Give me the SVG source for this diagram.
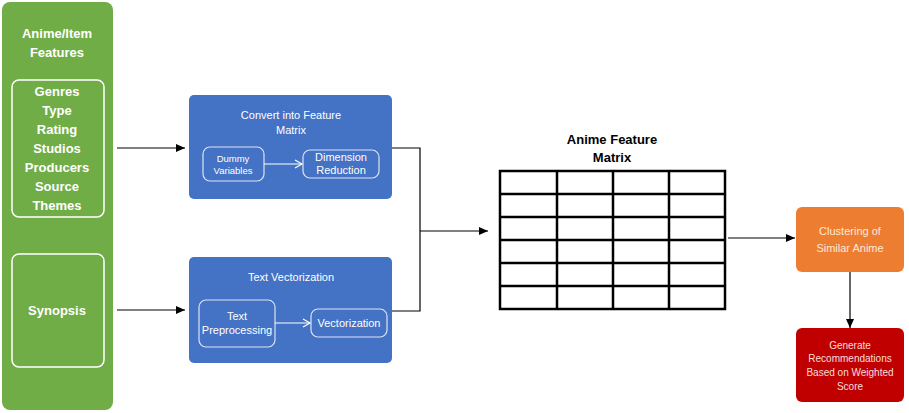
<svg xmlns="http://www.w3.org/2000/svg" width="909" height="413" viewBox="0 0 909 413">
<defs>
<style>
.t{font-family:"Liberation Sans","Open Sans",sans-serif;text-anchor:middle}
.wb{fill:#fff;font-weight:bold;font-size:13px}
.w{fill:#fff;font-size:11px}
.inner{fill:none;stroke:#fff;stroke-width:1.5}
.innerb{fill:none;stroke:#dbe3f3;stroke-width:1.2}
.conn{fill:none;stroke:#000;stroke-width:1.2}
.connw{fill:none;stroke:#fff;stroke-width:1.2}
.grid{fill:none;stroke:#000;stroke-width:2.5}
</style>
<marker id="ah" markerWidth="10" markerHeight="10" refX="9" refY="5" orient="auto" markerUnits="userSpaceOnUse">
<path d="M0,1 L9,5 L0,9 Z" fill="#000"/>
</marker>
<marker id="ahw" markerWidth="10" markerHeight="10" refX="8" refY="5" orient="auto" markerUnits="userSpaceOnUse">
<path d="M1,1 L8,5 L1,9" fill="none" stroke="#fff" stroke-width="1.2"/>
</marker>
</defs>
<rect width="909" height="413" fill="#fff"/>

<g id="features">
<rect x="2" y="2" width="111" height="408" rx="8" fill="#70AD47"/>
<text class="t wb" x="57" y="38">Anime/Item</text>
<text class="t wb" x="57" y="57">Features</text>
<rect class="inner" x="12" y="80" width="92" height="137" rx="7"/>
<text class="t wb" x="57" y="96">Genres</text>
<text class="t wb" x="57" y="115">Type</text>
<text class="t wb" x="57" y="134">Rating</text>
<text class="t wb" x="57" y="153">Studios</text>
<text class="t wb" x="57" y="172">Producers</text>
<text class="t wb" x="57" y="191">Source</text>
<text class="t wb" x="57" y="210">Themes</text>
<rect class="inner" x="12" y="254" width="92" height="113" rx="7"/>
<text class="t wb" x="57" y="315">Synopsis</text>
</g>

<g id="convert">
<rect x="189" y="95" width="203" height="104" rx="5" fill="#4472C4"/>
<text class="t w" x="291" y="119">Convert into Feature</text>
<text class="t w" x="291" y="134">Matrix</text>
<g id="dummy">
<rect class="innerb" x="203" y="147" width="61" height="34" rx="7"/>
<text class="t w" x="233" y="162" style="font-size:9.5px">Dummy</text>
<text class="t w" x="233" y="174" style="font-size:9.5px">Variables</text>
</g>
<g id="dimension">
<rect class="innerb" x="303" y="150" width="76" height="28" rx="7"/>
<text class="t w" x="341" y="161">Dimension</text>
<text class="t w" x="341" y="174">Reduction</text>
</g>
</g>

<g id="textvec">
<rect x="189" y="257" width="203" height="106" rx="5" fill="#4472C4"/>
<text class="t w" x="291" y="281">Text Vectorization</text>
<g id="preproc">
<rect class="innerb" x="199" y="300" width="76" height="47" rx="7"/>
<text class="t w" x="237" y="320">Text</text>
<text class="t w" x="237" y="334">Preprocessing</text>
</g>
<g id="vectorization">
<rect class="innerb" x="311" y="309" width="76" height="28" rx="7"/>
<text class="t w" x="349" y="327">Vectorization</text>
</g>
</g>

<g id="matrix">
<text class="t" x="612" y="144" style="font-weight:bold;font-size:13px;fill:#000">Anime Feature</text>
<text class="t" x="612" y="162" style="font-weight:bold;font-size:13px;fill:#000">Matrix</text>
<rect class="grid" x="500" y="171" width="225" height="138"/>
<path class="grid" d="M557,171V309M613,171V309M669,171V309M500,194H725M500,217H725M500,240H725M500,263H725M500,286H725"/>
</g>

<g id="clustering">
<rect x="796" y="207" width="108" height="65" rx="6" fill="#ED7D31"/>
<text class="t" x="850" y="235" style="font-size:11px;fill:#fde9d9">Clustering of</text>
<text class="t" x="850" y="252" style="font-size:11px;fill:#fde9d9">Similar Anime</text>
</g>

<g id="recommend">
<rect x="796" y="328" width="108" height="74" rx="6" fill="#C00000"/>
<text class="t" x="850" y="349" style="font-size:10px;fill:#f8dede">Generate</text>
<text class="t" x="850" y="362" style="font-size:10px;fill:#f8dede">Recommendations</text>
<text class="t" x="850" y="376" style="font-size:10px;fill:#f8dede">Based on Weighted</text>
<text class="t" x="850" y="390" style="font-size:10px;fill:#f8dede">Score</text>
</g>

<g id="connectors">
<path class="conn" d="M117,148H185" marker-end="url(#ah)"/>
<path class="conn" d="M117,310H185" marker-end="url(#ah)"/>
<path class="connw" d="M264,164H302" marker-end="url(#ahw)"/>
<path class="connw" d="M275,323H310" marker-end="url(#ahw)"/>
<path class="conn" d="M392,148H420V311H392"/>
<path class="conn" d="M420,231H488" marker-end="url(#ah)"/>
<path class="conn" d="M728,238H795" marker-end="url(#ah)"/>
<path class="conn" d="M850,272V328" marker-end="url(#ah)"/>
</g>
</svg>
